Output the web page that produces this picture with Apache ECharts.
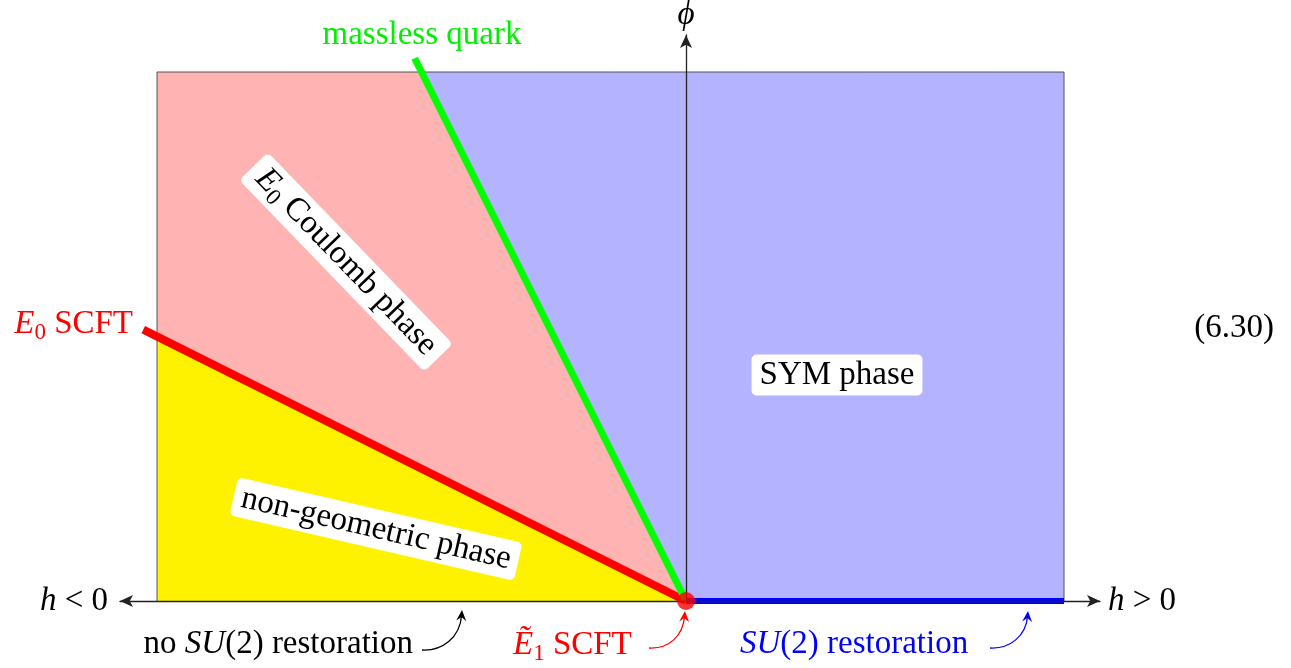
<!DOCTYPE html>
<html>
<head>
<meta charset="utf-8">
<script src="https://cdn.jsdelivr.net/npm/echarts@6/dist/echarts.min.js"></script>
<style>
  html, body { margin: 0; padding: 0; background: #ffffff; }
  #chart { width: 1291px; height: 668px; }
</style>
</head>
<body>
<div id="chart"></div>
<script>
// Phase diagram in the (h, phi) plane
const hExtent = [-1.07, 0.7826];
const phiExtent = [0, 1.07];
const frameCorners = [[-1, 0], [-1, 1], [0.7146, 1], [0.7146, 0]];
const nonGeometricRegion = [[0, 0], [-1, 0], [-1, 0.5]];
const coulombRegion = [[0, 0], [-1, 0.5], [-1, 1], [-0.5, 1]];
const symRegion = [[0, 0], [-0.5, 1], [0.7146, 1], [0.7146, 0]];
const e0ScftLine = [[0, 0], [-1.026, 0.513]];
const masslessQuarkLine = [[0, 0], [-0.513, 1.026]];
const restorationLine = [[0, 0], [0.7146, 0]];
const e1ScftPoint = [[0, 0]];

const FONT = "'Liberation Serif', 'DejaVu Serif', serif";
const FS = 33;

function regionSeries(points, color, z) {
  return {
    type: 'custom', coordinateSystem: 'cartesian2d', silent: true, z: z,
    data: [[0, 0]],
    renderItem: function (params, api) {
      return {
        type: 'polygon',
        shape: { points: points.map(function (p) { return api.coord(p); }) },
        style: { fill: color }
      };
    }
  };
}

function frameSeries(points) {
  return {
    type: 'custom', coordinateSystem: 'cartesian2d', silent: true, z: 3,
    data: [[0, 0]],
    renderItem: function (params, api) {
      return {
        type: 'polyline',
        shape: { points: points.map(function (p) { return api.coord(p); }) },
        style: { stroke: '#555555', lineWidth: 1, fill: null }
      };
    }
  };
}

function segmentSeries(points, color, width, z) {
  return {
    type: 'line', data: points, showSymbol: false, silent: true, z: z,
    lineStyle: { color: color, width: width, cap: 'butt' }
  };
}

// styles for rich text runs
function richStyles(color) {
  return {
    r: { fontFamily: FONT, fontSize: FS, fill: color },
    i: { fontFamily: FONT, fontSize: FS, fontStyle: 'italic', fill: color },
    s: { fontFamily: FONT, fontSize: 23, fill: color, padding: [17, 0, 0, 0] }
  };
}

function label(text, x, y, color, opts) {
  opts = opts || {};
  const style = {
    text: text, rich: richStyles(color),
    fontFamily: FONT, fontSize: FS, fill: color,
    align: opts.align || 'center', verticalAlign: 'middle'
  };
  if (opts.box) {
    style.backgroundColor = '#ffffff';
    style.padding = opts.padding || [4, 9];
    style.borderRadius = 5;
  }
  return {
    type: 'text', x: x, y: y, z: 60,
    rotation: (opts.rotate || 0) * Math.PI / 180,
    style: style
  };
}

function curvedArrow(start, c1, c2, tip, color) {
  const dx = tip[0] - c2[0], dy = tip[1] - c2[1];
  const len = Math.sqrt(dx * dx + dy * dy);
  const ux = dx / len, uy = dy / len;
  const nx = -uy, ny = ux;
  const L = 11, W = 5, N = 7;
  const head = [
    tip,
    [tip[0] - ux * L + nx * W, tip[1] - uy * L + ny * W],
    [tip[0] - ux * N, tip[1] - uy * N],
    [tip[0] - ux * L - nx * W, tip[1] - uy * L - ny * W]
  ];
  return [
    {
      type: 'bezierCurve', z: 60,
      shape: { x1: start[0], y1: start[1], cpx1: c1[0], cpy1: c1[1], cpx2: c2[0], cpy2: c2[1], x2: tip[0] - ux * 5, y2: tip[1] - uy * 5 },
      style: { stroke: color, lineWidth: 1.3, fill: null }
    },
    { type: 'polygon', z: 60, shape: { points: head }, style: { fill: color } }
  ];
}

const chart = echarts.init(document.getElementById('chart'), null, { renderer: 'canvas' });

const graphics = [
  label('{i|ϕ}', 686, 15, '#000000'),
  label('massless quark', 422, 35, '#00ee00'),
  label('{i|E}{s|0}{r| SCFT}', 133, 324, '#ff0000', { align: 'right' }),
  label('(6.30)', 1234, 328, '#000000'),
  label('SYM phase', 837, 375, '#000000', { box: true, padding: [4, 8] }),
  label('{i|E}{s|0}{r| Coulomb phase}', 346, 262, '#000000', { box: true, rotate: -46, padding: [0, 10] }),
  label('non-geometric phase', 376, 529, '#000000', { box: true, rotate: -13, padding: [3, 8] }),
  label('{i|h}{r| < 0}', 108, 601, '#000000', { align: 'right' }),
  label('{i|h}{r| > 0}', 1108, 601, '#000000', { align: 'left' }),
  label('{r|no }{i|SU}{r|(2) restoration}', 413, 644, '#000000', { align: 'right' }),
  label('{i|Ẽ}{s|1}{r| SCFT}', 513, 645, '#ff0000', { align: 'left' }),
  label('{i|SU}{r|(2) restoration}', 740, 644, '#0000ff', { align: 'left' })
].concat(
  curvedArrow([422, 650], [442, 651], [460, 638], [462, 610], '#000000'),
  curvedArrow([649, 648], [669, 649], [683, 636], [685, 611], '#ff0000'),
  curvedArrow([990, 648], [1010, 649], [1026, 636], [1028, 611], '#0000ff')
);

chart.setOption({
  animation: false,
  backgroundColor: '#ffffff',
  grid: { left: 120, right: 191, top: 35, bottom: 67, containLabel: false },
  xAxis: {
    type: 'value', min: hExtent[0], max: hExtent[1], z: 6,
    splitLine: { show: false }, axisTick: { show: false }, axisLabel: { show: false },
    axisLine: { onZero: true, symbol: ['arrow', 'arrow'], symbolSize: [9, 13],
      lineStyle: { color: '#222222', width: 1.3 } }
  },
  yAxis: {
    type: 'value', min: phiExtent[0], max: phiExtent[1], z: 6,
    splitLine: { show: false }, axisTick: { show: false }, axisLabel: { show: false },
    axisLine: { onZero: true, symbol: ['none', 'arrow'], symbolSize: [9, 13],
      lineStyle: { color: '#222222', width: 1.3 } }
  },
  series: [
    regionSeries(nonGeometricRegion, '#fff200', 1),
    regionSeries(coulombRegion, '#ffb3b3', 1),
    regionSeries(symRegion, '#b3b3ff', 1),
    frameSeries(frameCorners),
    segmentSeries(e0ScftLine, '#ff0000', 8, 4),
    segmentSeries(masslessQuarkLine, '#00ff00', 7, 4),
    segmentSeries(restorationLine, '#0000ff', 6, 4),
    {
      type: 'scatter', data: e1ScftPoint, symbolSize: 18, z: 10, silent: true,
      itemStyle: { color: '#ff0000' }
    }
  ],
  graphic: { elements: graphics }
});
</script>
</body>
</html>
